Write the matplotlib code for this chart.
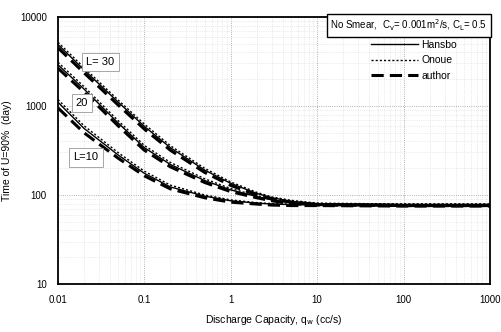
import numpy as np
import matplotlib.pyplot as plt

plt.rcParams['font.family'] = ['Liberation Sans', 'DejaVu Sans']

# discharge capacity qw (cc/s)
qw = [0.01, 0.02, 0.05, 0.1, 0.2, 0.5, 1, 2, 3, 5, 10, 100, 1000]

# time for U=90% (day), drain length L = 30, 20, 10
hansbo_30 = [4900, 2550, 1100, 590, 340, 190, 135, 104, 93, 85, 80, 78, 78]
onoue_30 = [5200, 2700, 1160, 625, 358, 199, 140, 107, 95, 87, 81, 79, 79]
author_30 = [4500, 2360, 1020, 550, 318, 179, 128, 100, 90, 83, 78, 76, 76]

hansbo_20 = [2900, 1550, 640, 340, 220, 145, 114, 96, 88, 82, 79, 78, 78]
onoue_20 = [3100, 1650, 680, 360, 232, 152, 118, 98, 90, 83, 80, 79, 79]
author_20 = [2650, 1430, 595, 318, 207, 138, 109, 93, 86, 80, 77, 76, 76]

hansbo_10 = [1100, 560, 280, 175, 123, 97, 86, 81, 79, 78, 77, 77, 77]
onoue_10 = [1180, 600, 298, 185, 129, 100, 88, 82, 80, 79, 78, 78, 78]
author_10 = [950, 500, 258, 164, 117, 93, 83, 79, 77, 76, 76, 75, 75]

fig = plt.figure(figsize=(5.02, 3.32), dpi=100)
ax = fig.add_axes([0.1155, 0.1446, 0.8605, 0.8044])

groups = [(hansbo_30, onoue_30, author_30),
          (hansbo_20, onoue_20, author_20),
          (hansbo_10, onoue_10, author_10)]
for i, (h, o, a) in enumerate(groups):
    ax.plot(qw, h, color='black', lw=1.0, ls='-', label='Hansbo' if i == 0 else None)
    ax.plot(qw, o, color='black', lw=1.0, ls=(0, (1.5, 1.5)), label='Onoue' if i == 0 else None)
    ax.plot(qw, a, color='black', lw=2.2, ls=(0, (4, 2)), label='author' if i == 0 else None)

ax.set_xscale('log')
ax.set_yscale('log')
ax.set_xlim(0.01, 1000)
ax.set_ylim(10, 10000)
ax.set_xticks([0.01, 0.1, 1, 10, 100, 1000])
ax.set_xticklabels(['0.01', '0.1', '1', '10', '100', '1000'])
ax.set_yticks([10, 100, 1000, 10000])
ax.set_yticklabels(['10', '100', '1000', '10000'])
ax.tick_params(which='both', length=0, labelsize=7, pad=8)
ax.grid(True, which='major', ls=':', color='0.6', lw=0.6)
ax.grid(True, which='minor', ls=':', color='0.85', lw=0.5)
for s in ax.spines.values():
    s.set_linewidth(1.3)

ax.set_xlabel('Discharge Capacity, q$_{\\rm w}$ (cc/s)', fontsize=7.5, labelpad=6)
ax.set_ylabel('Time of U=90%  (day)', fontsize=7.5, labelpad=6)

# labels for drain length
box = dict(facecolor='white', edgecolor='0.6', lw=0.6, pad=3)
ax.text(0.031, 3100, 'L= 30', fontsize=8, ha='center', va='center', bbox=box, zorder=5)
ax.text(0.019, 1080, '20', fontsize=8, ha='center', va='center', bbox=box, zorder=5)
ax.text(0.021, 265, 'L=10', fontsize=8, ha='center', va='center', bbox=box, zorder=5)

ax.text(0.994, 0.968, 'No Smear,  C$_{\\rm v}$= 0.001m$^2$/s, C$_{\\rm L}$= 0.5',
        transform=ax.transAxes, fontsize=7, ha='right', va='center',
        bbox=dict(facecolor='white', edgecolor='black', lw=1.0, pad=2.5), zorder=6)

ax.legend(loc='upper left', bbox_to_anchor=(0.725, 0.915), frameon=False,
          fontsize=7.5, handlelength=4.5, handletextpad=0.3, labelspacing=0.55,
          borderpad=0, borderaxespad=0)

fig.savefig('out.png', dpi=100)
